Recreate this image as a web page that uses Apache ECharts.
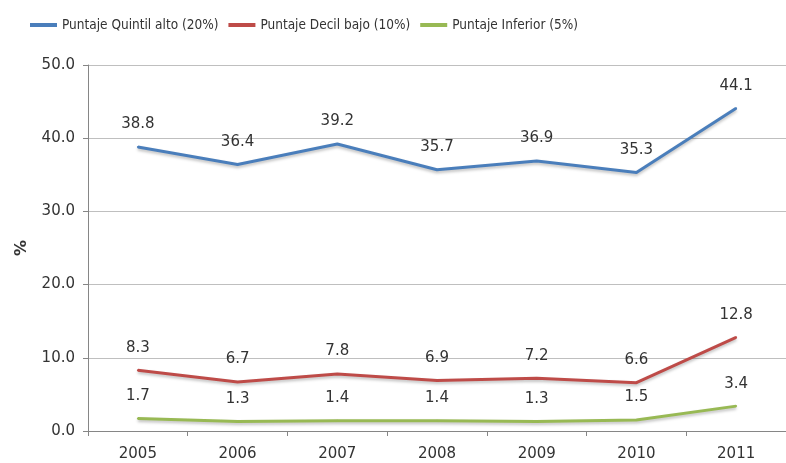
<!DOCTYPE html>
<html>
<head>
<meta charset="utf-8">
<script src="https://cdn.jsdelivr.net/npm/echarts@6/dist/echarts.min.js"></script>
<style>
  html, body { margin: 0; padding: 0; background: #fff; }
  #chart { width: 786px; height: 463px; }
</style>
</head>
<body>
<div id="chart"></div>
<script>
var years = ["2005", "2006", "2007", "2008", "2009", "2010", "2011"];
var quintilAlto = [38.8, 36.4, 39.2, 35.7, 36.9, 35.3, 44.1];
var decilBajo = [8.3, 6.7, 7.8, 6.9, 7.2, 6.6, 12.8];
var inferior = [1.7, 1.3, 1.4, 1.4, 1.3, 1.5, 3.4];
var seriesNames = ["Puntaje Quintil alto (20%)", "Puntaje Decil bajo (10%)", "Puntaje Inferior (5%)"];
var colors = ["#4a7ebb", "#be4b48", "#98b954"];

var textColor = "#333";
var font = "DejaVu Sans";

function lineSeries(name, data, color) {
  return {
    name: name,
    type: "line",
    data: data,
    symbol: "circle",
    symbolSize: 2,
    itemStyle: { color: color },
    lineStyle: {
      width: 3,
      color: color,
      shadowColor: "rgba(0,0,0,0.25)",
      shadowBlur: 3,
      shadowOffsetY: 2
    },
    label: {
      show: true,
      position: "top",
      distance: 14,
      color: textColor,
      fontFamily: font,
      fontSize: 15,
      formatter: function (p) { return p.value.toFixed(1); }
    }
  };
}

var myChart = echarts.init(document.getElementById("chart"));
myChart.setOption({
  backgroundColor: "#fff",
  animation: false,
  color: colors,
  legend: {
    data: seriesNames,
    left: 25,
    top: 13,
    icon: "rect",
    itemWidth: 27,
    itemHeight: 4,
    itemGap: 10,
    textStyle: {
      color: textColor,
      fontFamily: "'DejaVu Sans Condensed', 'Liberation Sans', sans-serif",
      fontSize: 13.5
    }
  },
  grid: {
    left: 88,
    top: 65,
    width: 710,
    height: 366
  },
  xAxis: {
    type: "category",
    data: years,
    axisLine: { lineStyle: { color: "#868686", width: 1 } },
    axisTick: { show: true, length: 5, lineStyle: { color: "#868686" } },
    axisLabel: {
      color: textColor,
      fontFamily: font,
      fontSize: 15,
      margin: 16
    }
  },
  yAxis: {
    type: "value",
    min: 0,
    max: 50,
    interval: 10,
    name: "%",
    nameLocation: "middle",
    nameGap: 58,
    nameTextStyle: {
      color: textColor,
      fontFamily: font,
      fontSize: 16,
      fontWeight: "bold"
    },
    axisLine: { show: true, lineStyle: { color: "#868686", width: 1 } },
    axisTick: { show: true, length: 5, lineStyle: { color: "#868686" } },
    splitLine: { show: true, lineStyle: { color: "#bfbfbf", width: 1 } },
    axisLabel: {
      color: textColor,
      fontFamily: font,
      fontSize: 15,
      margin: 13,
      formatter: function (v) { return v.toFixed(1); }
    }
  },
  series: [
    lineSeries(seriesNames[0], quintilAlto, colors[0]),
    lineSeries(seriesNames[1], decilBajo, colors[1]),
    lineSeries(seriesNames[2], inferior, colors[2])
  ]
});
</script>
</body>
</html>
